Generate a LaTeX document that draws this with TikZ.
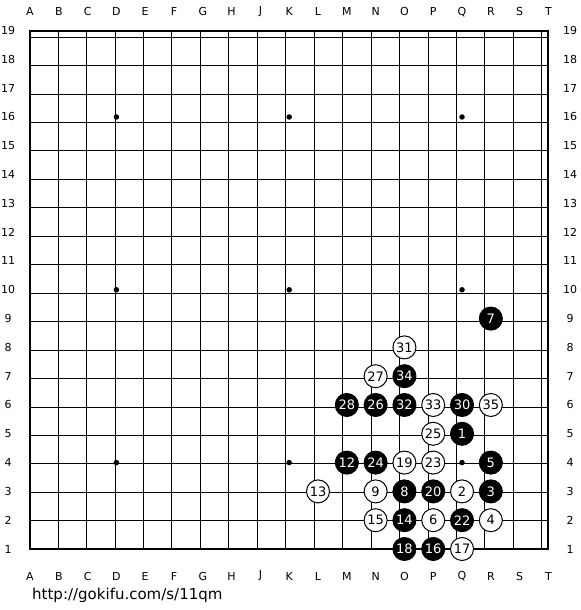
\documentclass[tikz,border=0pt]{standalone}
\usepackage{fontspec}
\setmainfont{DejaVu Sans}
\begin{document}
\begin{tikzpicture}[x=28.8pt, y=28.8pt,
 lbl/.style = {font=\fontsize{11}{12}\selectfont},
 stone/.style = {circle, draw=black, line width=1pt, inner sep=0pt,
      minimum size=23pt, font=\fontsize{13}{14}\selectfont},
 blk/.style = {stone, fill=black, text=white},
 wht/.style = {stone, fill=white, text=black},
 hoshi/.style = {circle, fill=black, inner sep=0pt, minimum size=5.5pt}
                    ]
\useasboundingbox (-0.042,-1.118) rectangle (20.097,20.062);
% board
\draw[line width=1pt] (1,1) grid (19,19);
\draw[line width=2pt] (1,1) rectangle (19,19);
\foreach \x in {4,10,16}
  \foreach \y in {4,10,16}
    \node (h\x-\y) [hoshi] at (\x,\y) {};
% coordinates
\foreach \c [count=\i] in {A,B,C,D,E,F,G,H,J,K,L,M,N,O,P,Q,R,S,T}{
  \node (ct\c) [lbl] at (\i,19.646) {\c};
  \node (cb\c) [lbl] at (\i,0.062) {\c};
}
\foreach \r in {1,...,19}{
  \node (rl\r) [lbl] at (0.236,\r) {\r};
  \node (rr\r) [lbl] at (19.75,\r) {\r};
}
% black stones
\foreach \x/\y/\n in {16/5/1, 17/3/3, 17/4/5, 17/9/7, 14/3/8, 12/4/12,
      14/2/14, 15/1/16, 14/1/18, 15/3/20, 16/2/22, 13/4/24, 13/6/26,
      12/6/28, 16/6/30, 14/6/32, 14/7/34}
  \node (s\n) [blk] at (\x,\y) {\n};
% white stones
\foreach \x/\y/\n in {16/3/2, 17/2/4, 15/2/6, 13/3/9, 11/3/13, 13/2/15,
      16/1/17, 14/4/19, 15/4/23, 15/5/25, 13/7/27, 14/8/31, 15/6/33,
      17/6/35}
  \node (s\n) [wht] at (\x,\y) {\n};
 %
\node (url) [anchor=west, font=\fontsize{15}{17}\selectfont, inner sep=0pt]
      at (1.07,-0.597) {http://gokifu.com/s/11qm};
\end{tikzpicture}
\end{document}
